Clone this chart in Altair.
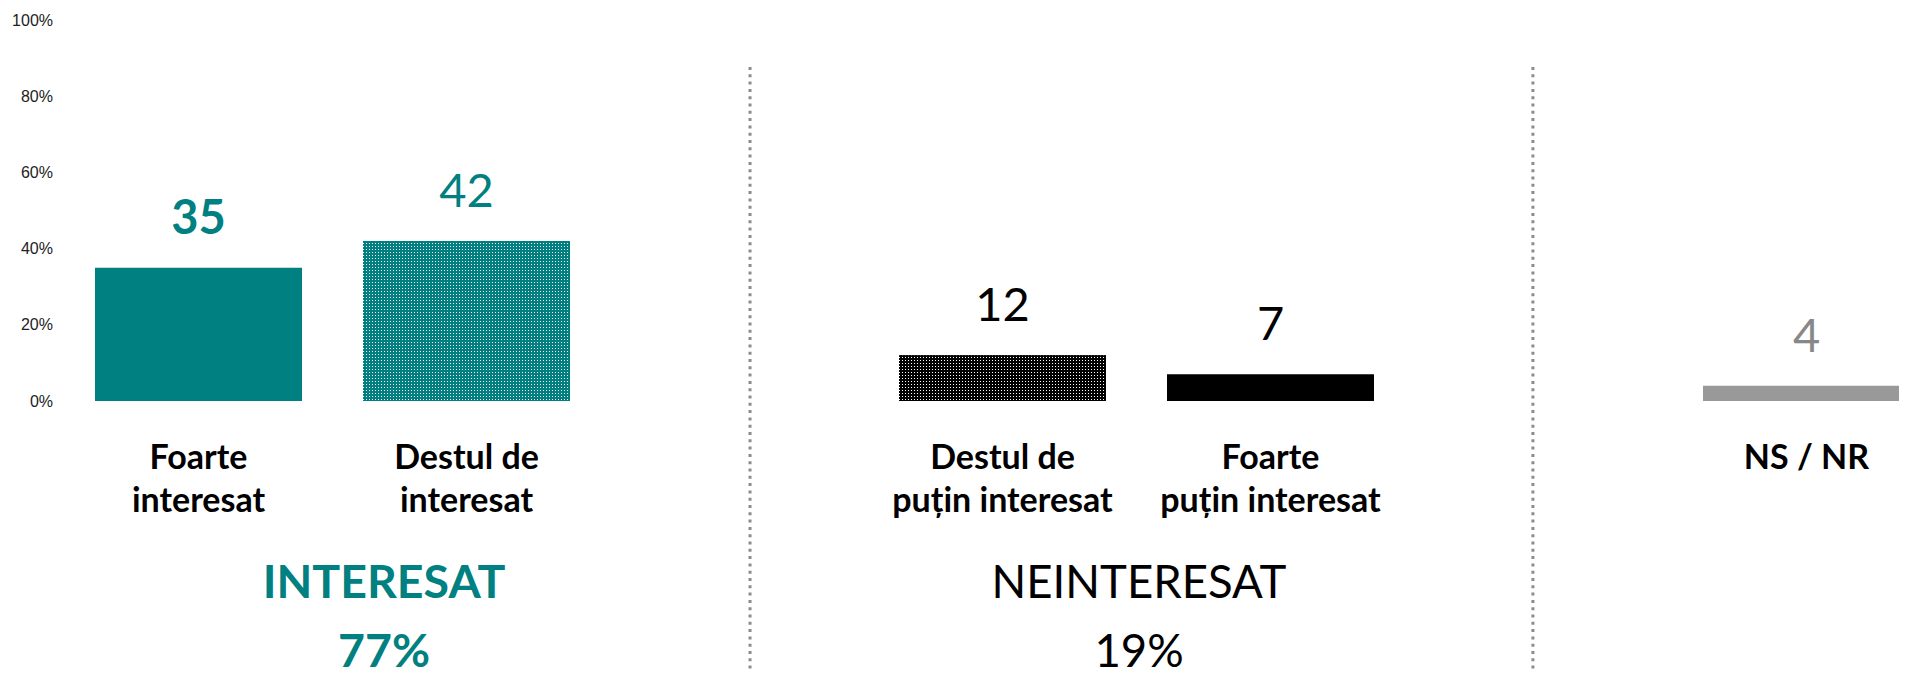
import altair as alt
import pandas as pd

# ---- data ----
slots = ["Foarte|interesat", "Destul de|interesat", " ",
         "Destul de|puțin interesat", "Foarte|puțin interesat", "  ", "NS / NR"]
categories = ["Foarte|interesat", "Destul de|interesat",
              "Destul de|puțin interesat", "Foarte|puțin interesat", "NS / NR"]
values = [35, 42, 12, 7, 4]
group_names = ["INTERESAT", "NEINTERESAT"]
group_totals = [77, 19]
group_anchor = ["Foarte|interesat", "Destul de|puțin interesat"]
separators = [" ", "  "]
y_ticks = [0, 20, 40, 60, 80, 100]

# ---- styles ----
TEAL = "#008080"
bar_colors = [TEAL, TEAL, "#000000", "#000000", "#999999"]
label_colors = [TEAL, TEAL, "#000000", "#000000", "#888888"]
FONT = "Lato"
PLOT_H = 381

df = pd.DataFrame({"cat": categories, "value": values})
gdf = pd.DataFrame({"name": group_names, "total": group_totals, "anchor": group_anchor})

STEP = 268.0
xscale = alt.Scale(domain=slots, range=[0, STEP * len(slots)],
                   paddingInner=61 / STEP, paddingOuter=30.5 / STEP)
xaxis = alt.Axis(title=None, labelExpr="split(datum.label, '|')",
                 labelFont=FONT, labelFontWeight="bold", labelFontSize=34,
                 labelColor="#000000", labelBaseline="top", labelPadding=40,
                 labelLineHeight=43, ticks=False, tickSize=0, domain=False,
                 labelAngle=0, labelLimit=0, labelOverlap=False)


def mkx(field="cat", band=None):
    kw = {}
    if band is not None:
        kw["bandPosition"] = band
    return alt.X(f"{field}:N", scale=xscale, sort=slots, axis=xaxis, **kw)


y = alt.Y("value:Q", scale=alt.Scale(domain=[0, 100], nice=False),
          axis=alt.Axis(title=None, values=y_ticks, labelExpr="datum.value + '%'",
                        grid=False, domain=False, ticks=False, tickSize=0, labelPadding=12,
                        labelFont="Liberation Sans", labelFontSize=16, labelColor="#222222"))


def stripes(color, size_px, period_px, direction, frac):
    clear = "rgba(255,255,255,0)"
    p = period_px / size_px
    stops = []
    a = 0.0
    while a < 1.0:
        m = min(a + frac * p, 1.0)
        b = min(a + p, 1.0)
        stops += [alt.GradientStop(color=color, offset=a), alt.GradientStop(color=color, offset=m),
                  alt.GradientStop(color=clear, offset=m), alt.GradientStop(color=clear, offset=b)]
        a += p
    if direction == "cols":
        return alt.LinearGradient(gradient="linear", stops=stops, x1=0, x2=1, y1=0, y2=0)
    return alt.LinearGradient(gradient="linear", stops=stops, x1=0, x2=0, y1=0, y2=1)


base = alt.Chart(df)
bars = base.mark_bar().encode(
    x=mkx(), y=y,
    color=alt.Color("cat:N", scale=alt.Scale(domain=categories, range=bar_colors), legend=None))

# dotted textures
BAR_W = STEP - 61
tex = []
for idx, col in [(1, TEAL), (2, "#000000")]:
    cat = categories[idx]
    h_px = values[idx] / 100 * PLOT_H
    f = base.transform_filter(alt.datum.cat == cat)
    tex.append(f.mark_bar(fill=stripes("#ffffff", BAR_W, 3, "cols", 0.47)).encode(x=mkx(), y=y))
    tex.append(f.mark_bar(fill=stripes(col, h_px, 3, "rows", 0.53)).encode(x=mkx(), y=y))

lab_color = alt.Color("cat:N", scale=alt.Scale(domain=categories, range=label_colors), legend=None)
labels_bold = base.transform_filter(alt.datum.cat == categories[0]).mark_text(
    font=FONT, fontWeight="bold", fontSize=47, baseline="middle", dy=-48
).encode(x=mkx(), y=y, text="value:Q", color=lab_color)
labels_norm = base.transform_filter(alt.datum.cat != categories[0]).mark_text(
    font=FONT, fontSize=47, baseline="middle", dy=-48
).encode(x=mkx(), y=y, text="value:Q", color=lab_color)

sdf = pd.DataFrame({"cat": separators})
rules = []
for sep, band in zip(separators, [0.575, 0.473]):
    rules.append(alt.Chart(sdf).transform_filter(alt.datum.cat == sep).mark_rule(
        color="#8c8c8c", strokeWidth=3, strokeDash=[3, 4.3]
    ).encode(x=mkx(band=band), y=alt.value(47), y2=alt.value(653)))

g = alt.Chart(gdf).transform_calculate(txt="[datum.name, datum.total + '%']")
g1 = g.transform_filter(alt.datum.name == group_names[0]).mark_text(
    font=FONT, fontWeight="bold", fontSize=46.5, color=TEAL, lineHeight=69,
    baseline="middle", dx=185.5
).encode(x=mkx("anchor"), y=alt.value(564), text="txt:N")
g2 = g.transform_filter(alt.datum.name == group_names[1]).mark_text(
    font=FONT, fontSize=45.5, color="#000000", lineHeight=69,
    baseline="middle", dx=136.5
).encode(x=mkx("anchor"), y=alt.value(564), text="txt:N")

chart = alt.layer(bars, *tex, labels_bold, labels_norm, *rules, g1, g2).resolve_scale(
    color="independent"
).properties(
    width=1834.5, height=PLOT_H,
    autosize=alt.AutoSizeParams(type="none"),
    padding={"left": 56.5, "top": 12, "right": 0, "bottom": 272},
).configure_view(stroke=None)

chart.save("out.html", embed_options={"renderer": "svg", "actions": False})
